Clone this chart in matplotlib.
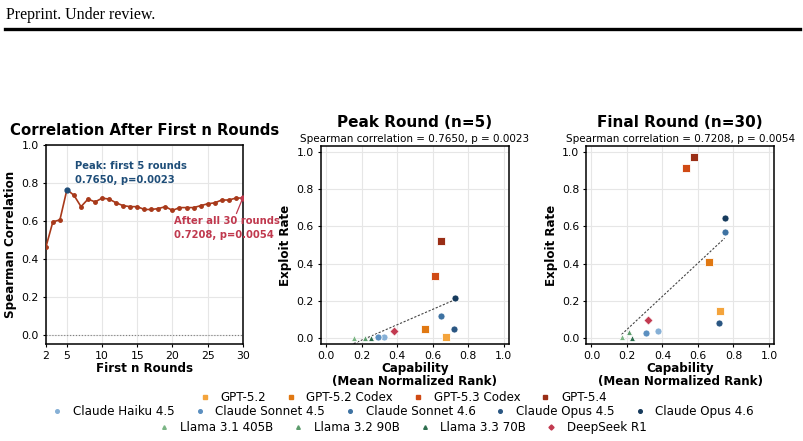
import numpy as np
import matplotlib.pyplot as plt
from matplotlib.lines import Line2D

# correlation after first n rounds
rounds = list(range(2, 31))
spearman = [0.46, 0.595, 0.605, 0.765, 0.735, 0.675, 0.715, 0.70, 0.72, 0.715,
            0.695, 0.68, 0.675, 0.675, 0.66, 0.66, 0.665, 0.675, 0.655, 0.67,
            0.67, 0.67, 0.68, 0.69, 0.695, 0.71, 0.71, 0.72, 0.7208]

models = ["GPT-5.2", "GPT-5.2 Codex", "GPT-5.3 Codex", "GPT-5.4",
          "Claude Haiku 4.5", "Claude Sonnet 4.5", "Claude Sonnet 4.6",
          "Claude Opus 4.5", "Claude Opus 4.6",
          "Llama 3.1 405B", "Llama 3.2 90B", "Llama 3.3 70B", "DeepSeek R1"]
colors = ["#f4a43c", "#e07812", "#d04a14", "#9a2e16",
          "#86b0d6", "#5b8fc0", "#3e72a2", "#2a5682", "#163a5c",
          "#7bb585", "#5c9c6c", "#2e6e4e", "#c23a50"]
markers = ["s"] * 4 + ["o"] * 5 + ["^"] * 3 + ["D"]

peak_cap = [0.675, 0.555, 0.615, 0.645, 0.325, 0.29, 0.645, 0.72, 0.725,
            0.155, 0.22, 0.255, 0.38]
peak_exp = [0.01, 0.05, 0.335, 0.52, 0.01, 0.01, 0.12, 0.05, 0.215,
            0.0, 0.0, 0.0, 0.04]
final_cap = [0.725, 0.665, 0.535, 0.58, 0.375, 0.31, 0.75, 0.72, 0.75,
             0.17, 0.21, 0.23, 0.32]
final_exp = [0.145, 0.41, 0.91, 0.97, 0.04, 0.03, 0.57, 0.08, 0.645,
             0.005, 0.035, 0.0, 0.10]

fig = plt.figure(figsize=(8.04, 4.41), dpi=100)

# page header
fig.text(0.007, 0.966, "Preprint. Under review.", family="Liberation Serif",
         fontsize=11.5, va="center", ha="left")
fig.add_artist(Line2D([0.006, 0.995], [0.934, 0.934], color="black", lw=2.4))

# left panel
ax = fig.add_axes([0.057, 0.220, 0.245, 0.451])
ax.plot(rounds, spearman, color="#a8391a", lw=1.2, marker="o", ms=2.5, zorder=3)
ax.plot(5, 0.765, "o", color="#1f4e79", ms=3.5, zorder=4)
ax.plot(30, 0.7208, "o", color="#c0394e", ms=3.5, zorder=4)
ax.axhline(0, color="gray", lw=0.8, ls=":")
ax.set_xlim(2, 30)
ax.set_ylim(-0.05, 1.0)
ax.set_xticks([2, 5, 10, 15, 20, 25, 30])
ax.set_yticks([0.0, 0.2, 0.4, 0.6, 0.8, 1.0])
ax.grid(True, color="#e6e6e6", lw=0.8)
ax.set_axisbelow(True)
ax.set_xlabel("First n Rounds", fontsize=8.6, fontweight="bold", labelpad=1)
ax.set_ylabel("Spearman Correlation", fontsize=8.6, fontweight="bold", labelpad=3)
ax.set_title("Correlation After First n Rounds", fontsize=10.7, fontweight="bold", pad=7)
ax.tick_params(labelsize=7.8, length=2, pad=3)
ax.text(6.2, 0.80, "Peak: first 5 rounds\n0.7650, p=0.0023", color="#1f4e79",
        fontsize=7.2, fontweight="bold", linespacing=1.45)
ax.annotate("After all 30 rounds\n0.7208, p=0.0054", xy=(30, 0.7208),
            xytext=(20.2, 0.51), color="#c0394e", fontsize=7.2,
            fontweight="bold", linespacing=1.45,
            arrowprops=dict(arrowstyle="-", color="#c0394e", lw=0.9,
                            shrinkA=0, shrinkB=2, relpos=(0.58, 1.0)))
for s in ax.spines.values():
    s.set_linewidth(1.1)


def scatter_panel(rect, caps, exps, title, subtitle):
    a = fig.add_axes(rect)
    for m, c, mk, x, y in zip(models, colors, markers, caps, exps):
        size = {"s": 26, "o": 26, "^": 20, "D": 22}[mk]
        a.scatter(x, y, s=size, marker=mk, color=c, edgecolors="white",
                  linewidths=0.6, zorder=3, label=m)
    coef = np.polyfit(caps, exps, 1)
    xs = np.array([min(caps), max(caps)])
    a.plot(xs, np.polyval(coef, xs), color="#444444", ls="--", lw=0.8,
           dashes=(2, 1.5), zorder=2)
    a.set_xlim(-0.03, 1.03)
    a.set_ylim(-0.03, 1.03)
    a.set_xticks([0, 0.2, 0.4, 0.6, 0.8, 1.0])
    a.set_yticks([0, 0.2, 0.4, 0.6, 0.8, 1.0])
    a.grid(True, color="#e6e6e6", lw=0.8)
    a.set_axisbelow(True)
    a.tick_params(labelsize=7.8, length=2, pad=3)
    a.set_xlabel("Capability\n(Mean Normalized Rank)", fontsize=8.6,
                 fontweight="bold", labelpad=1, linespacing=1.0)
    a.set_ylabel("Exploit Rate", fontsize=8.6, fontweight="bold", labelpad=3)
    a.set_title(title, fontsize=11, fontweight="bold", pad=14)
    a.text(0.5, 1.012, subtitle, transform=a.transAxes, ha="center",
           va="bottom", fontsize=7.5)
    for s in a.spines.values():
        s.set_linewidth(1.1)
    return a


ax2 = scatter_panel([0.399, 0.220, 0.234, 0.449], peak_cap, peak_exp,
                    "Peak Round (n=5)",
                    "Spearman correlation = 0.7650, p = 0.0023")
ax3 = scatter_panel([0.729, 0.220, 0.234, 0.449], final_cap, final_exp,
                    "Final Round (n=30)",
                    "Spearman correlation = 0.7208, p = 0.0054")

# legend in three rows
handles = [Line2D([], [], ls="", marker=mk, color=c, ms=2.6)
           for c, mk in zip(colors, markers)]
rows = [(range(0, 4), 0.098), (range(4, 9), 0.067), (range(9, 13), 0.031)]
for idx, y in rows:
    idx = list(idx)
    fig.legend([handles[i] for i in idx], [models[i] for i in idx],
               loc="center", bbox_to_anchor=(0.5, y), ncol=len(idx),
               frameon=False, fontsize=8.6, handlelength=1.2,
               columnspacing=1.5, handletextpad=0.7, borderpad=0.1)

fig.savefig("out.png", dpi=100)
